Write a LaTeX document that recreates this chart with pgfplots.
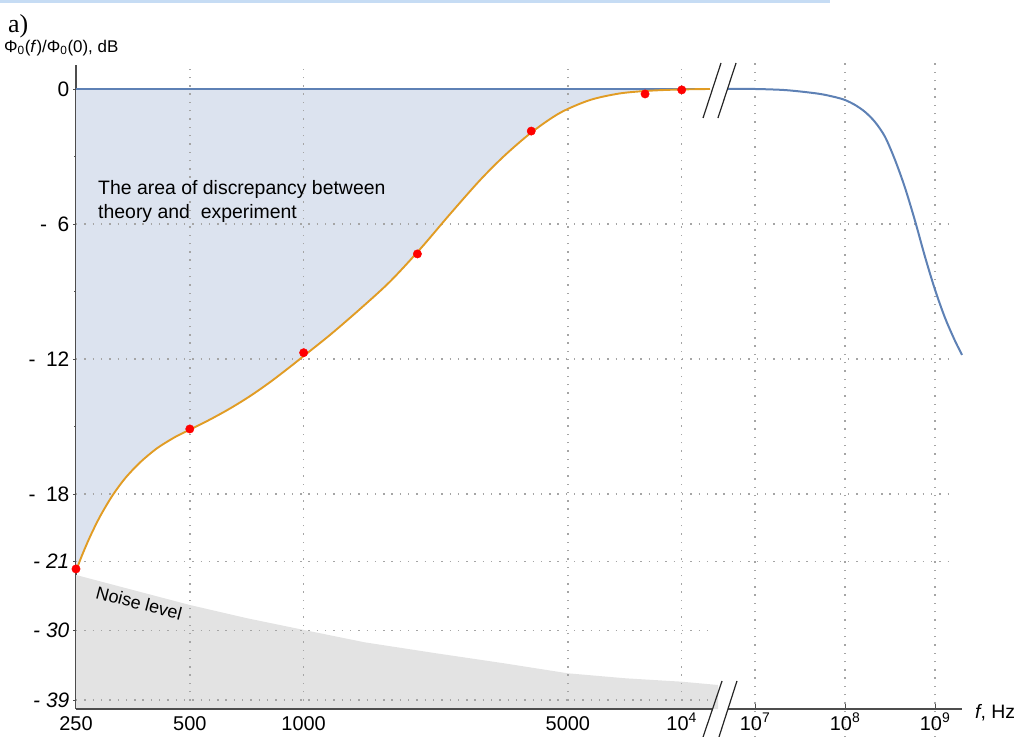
\documentclass[border=0pt]{standalone}
\usepackage{pgfplots}
\usepackage{pgfplotstable}
\pgfplotsset{compat=1.18}
\usepgfplotslibrary{fillbetween}
\usepackage{fontspec}
\setmainfont{Liberation Sans}
\newfontfamily\serifont{Liberation Serif}
\definecolor{mblue}{HTML}{5E81B5}
\definecolor{morange}{HTML}{E19C24}
\definecolor{fillblue}{HTML}{DCE3EF}
\definecolor{noisegray}{HTML}{E3E3E3}
\definecolor{gridgray}{HTML}{A5A5A5}
\definecolor{axisgray}{HTML}{4D4D4D}
\definecolor{topbar}{HTML}{C6DCF4}

% theory, low-frequency part (Hz, dB)
\pgfplotstableread{
f dB
250 0
11880 0
}\blueleft

% theory, high-frequency part (Hz, dB)
\pgfplotstableread{
f dB
5.0e6 0
1e7 0
2e7 -0.04
3.162e7 -0.11
5.275e7 -0.22
7.743e7 -0.36
1e8 -0.49
1.292e8 -0.71
1.668e8 -1.02
2.154e8 -1.47
2.783e8 -2.13
3.594e8 -3.16
4.642e8 -4.4
5.995e8 -5.87
7.743e8 -7.47
1e9 -8.93
1.292e9 -10.18
1.668e9 -11.2
1.995e9 -11.82
}\blueright

% experiment fit curve (Hz, dB)
\pgfplotstableread{
f dB
250 -21.42
259.3 -20.73
272.3 -19.90
289.4 -19.0
311.3 -18.10
336.9 -17.31
369.2 -16.60
409.4 -15.97
456.9 -15.47
497.6 -15.16
565.5 -14.69
638.7 -14.2
721.5 -13.65
815.0 -13.03
920.6 -12.35
996.4 -11.89
1174.4 -10.93
1409.8 -9.78
1692.6 -8.56
2032 -7.12
2439.2 -5.56
2928.2 -4.05
3409.8 -2.94
4019.4 -1.91
4767 -1.06
5721.8 -0.49
6869.8 -0.196
8247.3 -0.076
9902 -0.022
11880 0
}\orange

% measured points (Hz, dB)
\pgfplotstableread{
f dB
250 -21.33
500 -15.11
1000 -11.72
2000 -7.33
4000 -1.87
8000 -0.22
10000 -0.04
}\points

% noise level (Hz, dB)
\pgfplotstableread{
f dB
250 -22.75
354 -24.71
500 -26.65
708 -28.37
1000 -29.89
1450 -31.5
2243 -32.93
3380 -34.22
5000 -35.53
7110 -36.18
10000 -36.62
12490 -37.05
12490 -40.18
250 -40.18
}\noise

\pgfplotsset{
  lowx/.style={x filter/.expression={ln(x/250)/ln(2)}},
  highx/.style={x filter/.expression={5.967+0.791*(ln(x)/ln(10)-7)}},
  lowy/.style={y filter/.expression={-21+0.342*(y+21)}},
}
\tikzset{gridline/.style={draw=gridgray, line width=1.4bp, dash pattern=on 1.4bp off 6.9bp}}

\begin{document}
\begin{tikzpicture}
\begin{axis}[
  x=113.8bp, y=22.5bp,
  xmin=0, xmax=7.787, ymin=-27.56, ymax=1.07,
  axis x line*=bottom, axis y line*=left,
  x axis line style={draw=none},
  y axis line style={draw=axisgray, line width=1.6bp},
  clip=false,
  xtick={0,1,2,4.3219,5.3219,5.967,6.758,7.549},
  xticklabels={250,500,1000,5000,10\textsuperscript{4},10\textsuperscript{7},10\textsuperscript{8},10\textsuperscript{9}},
  minor xtick={0.263,0.485,0.678,0.848,1.263,1.485,1.678,1.848,3,3.585,4,4.585,4.807,5,5.17},
  ytick={0,-6,-12,-18,-21,-24.078,-27.156},
  yticklabels={0,-\hspace{0.5em}6,-\hspace{0.5em}12,-\hspace{0.5em}18,\textit{- 21},\textit{- 30},\textit{- 39}},
  minor ytick={-3,-9,-15},
  tick style={draw=axisgray, line width=0.9bp},
  major tick length=5bp, minor tick length=3.5bp,
  xtick align=inside, ytick align=center,
  ticklabel style={font=\fontsize{20}{24}\selectfont},
  xticklabel style={anchor=base, inner sep=0pt, yshift=-21bp},
  yticklabel style={inner sep=0pt, xshift=-4bp, font=\fontsize{21}{24}\selectfont},
]
% invisible paths for the discrepancy area
\addplot[name path=bl, draw=none, lowx] table[x=f,y=dB] {\blueleft};
\addplot[name path=or, draw=none, smooth, lowx] table[x=f,y=dB] {\orange};
\addplot[fill=fillblue, draw=none] fill between[of=bl and or];
% noise level
\addplot[fill=noisegray, draw=none, lowx, lowy] table[x=f,y=dB] {\noise} -- cycle;

% grid
\draw[gridline] (axis cs:1,-27.56) -- (axis cs:1,1.07);
\draw[gridline] (axis cs:2,-27.56) -- (axis cs:2,1.07);
\draw[gridline] (axis cs:4.3219,-27.56) -- (axis cs:4.3219,1.07);
\draw[gridline] (axis cs:5.3219,-27.56) -- (axis cs:5.3219,1.07);
\draw[gridline] (axis cs:5.967,-28.8) -- (axis cs:5.967,1.42);
\draw[gridline] (axis cs:6.758,-28.8) -- (axis cs:6.758,1.42);
\draw[gridline] (axis cs:7.549,-28.8) -- (axis cs:7.549,1.42);
\draw[gridline] (axis cs:0,-6) -- (axis cs:7.724,-6);
\draw[gridline] (axis cs:0,-12) -- (axis cs:7.724,-12);
\draw[gridline] (axis cs:0,-18) -- (axis cs:7.724,-18);
\draw[gridline] (axis cs:0,-21) -- (axis cs:7.724,-21);
\draw[gridline] (axis cs:0,-24.078) -- (axis cs:5.57,-24.078);
\draw[gridline] (axis cs:0,-27.156) -- (axis cs:5.57,-27.156);

% curves
\addplot[mblue, line width=2bp, lowx] table[x=f,y=dB] {\blueleft};
\addplot[mblue, line width=2bp, smooth, highx] table[x=f,y=dB] {\blueright};
\addplot[morange, line width=1.9bp, smooth, lowx] table[x=f,y=dB] {\orange};
\addplot[only marks, mark=*, mark size=4.2bp, draw=red, fill=red, lowx] table[x=f,y=dB] {\points};

% broken x axis line
\draw[axisgray, line width=1.6bp] (axis cs:0,-27.56) -- (axis cs:5.589,-27.56);
\draw[axisgray, line width=1.6bp] (axis cs:5.729,-27.56) -- (axis cs:7.787,-27.56);
% break marks
\draw[black!85, line width=1.2bp] (axis cs:5.510,-28.8) -- (axis cs:5.677,-26.31);
\draw[black!85, line width=1.2bp] (axis cs:5.650,-28.8) -- (axis cs:5.808,-26.31);
\draw[black!85, line width=1.2bp] (axis cs:5.510,-1.289) -- (axis cs:5.668,1.156);
\draw[black!85, line width=1.2bp] (axis cs:5.641,-1.289) -- (axis cs:5.800,1.156);

% texts
\fill[topbar] (axis cs:-0.668,3.956) rectangle (axis cs:6.626,3.82);
\node[anchor=base west, font=\serifont\fontsize{26}{30}\selectfont, inner sep=0pt] at (axis cs:-0.5975,2.49) {a)};
\node[anchor=base west, font=\fontsize{17}{20}\selectfont, inner sep=0pt] at (axis cs:-0.633,1.644) {Φ\textsubscript{0}(\textit{f})/Φ\textsubscript{0}(0), dB};
\node[anchor=base west, font=\fontsize{19.5}{24}\selectfont, inner sep=0pt] at (axis cs:0.1933,-4.667) {The area of discrepancy between};
\node[anchor=base west, font=\fontsize{19.5}{24}\selectfont, inner sep=0pt] at (axis cs:0.1933,-5.778) {theory and~ experiment};
\node[rotate=-14.5, font=\fontsize{18}{20}\selectfont, inner sep=0pt] at (axis cs:0.554,-22.84) {Noise level};
\node[anchor=base west, font=\fontsize{19.5}{24}\selectfont, inner sep=0pt] at (axis cs:7.9,-27.96) {\textit{f}, Hz};
\coordinate (O) at (axis cs:0,0);
\end{axis}
\pgfresetboundingbox
\path[use as bounding box] (O) ++(-76bp,89bp) rectangle ++(1022bp,-737bp);
\end{tikzpicture}
\end{document}
